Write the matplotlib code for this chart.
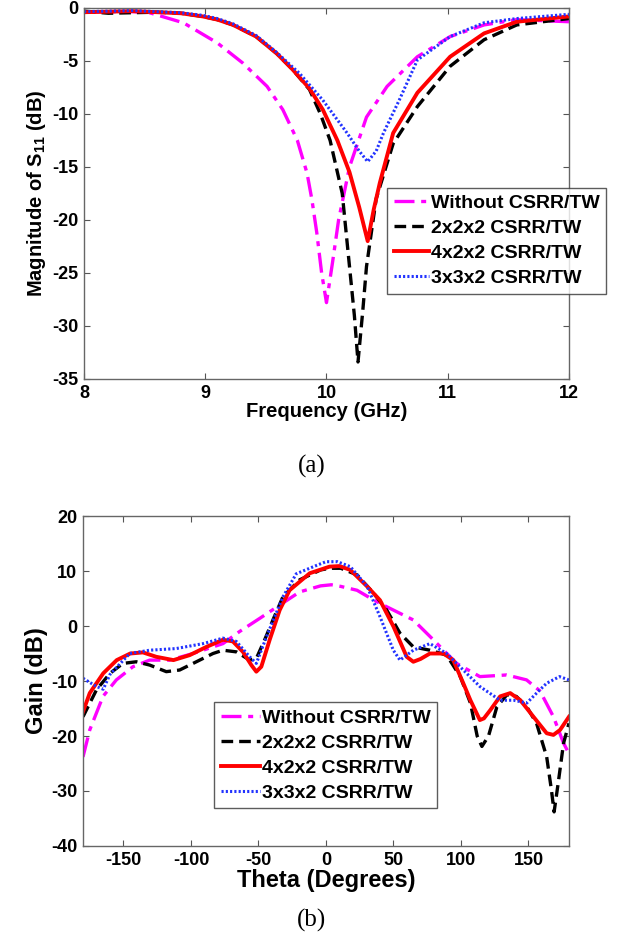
import matplotlib
matplotlib.use('Agg')
from matplotlib import pyplot as plt

plt.rcParams['font.family'] = ['Liberation Sans', 'DejaVu Sans']
plt.rcParams['font.weight'] = 'bold'
plt.rcParams['axes.unicode_minus'] = False
plt.rcParams['mathtext.fontset'] = 'custom'
plt.rcParams['mathtext.rm'] = 'Liberation Sans:bold'
plt.rcParams['mathtext.it'] = 'Liberation Sans:bold'

labels = ['Without CSRR/TW', '2x2x2 CSRR/TW', '4x2x2 CSRR/TW', '3x3x2 CSRR/TW']

# (a) S11 vs frequency
f_without = [8.0, 8.2, 8.4, 8.54, 8.82, 9.1, 9.31, 9.51, 9.64, 9.76, 9.84, 9.88, 9.92, 9.96, 10.0,
             10.05, 10.1, 10.19, 10.33, 10.5, 10.75, 11.02, 11.3, 11.57, 12.0]
s_without = [-0.4, -0.35, -0.35, -0.45, -1.4, -3.3, -5.2, -7.4, -9.6, -12.5, -15.6, -18.1, -21.2, -25.0, -27.8,
             -24.0, -20.0, -15.0, -10.3, -7.4, -4.6, -2.7, -1.6, -1.1, -1.3]

f_222 = [8.0, 8.2, 8.4, 8.6, 8.8, 8.98, 9.1, 9.23, 9.42, 9.59, 9.72, 9.86, 9.95, 10.03, 10.13,
         10.19, 10.23, 10.26, 10.3, 10.33, 10.41, 10.55, 10.75, 11.02, 11.3, 11.57, 12.0]
s_222 = [-0.3, -0.5, -0.45, -0.4, -0.5, -0.8, -1.1, -1.6, -2.7, -4.3, -5.8, -7.7, -10.0, -12.5, -17.5,
         -24.4, -29.0, -33.4, -28.5, -24.4, -18.0, -12.8, -9.3, -5.5, -3.0, -1.6, -1.0]

f_422 = [8.0, 8.2, 8.4, 8.6, 8.8, 8.98, 9.1, 9.23, 9.42, 9.59, 9.72, 9.86, 9.97, 10.09, 10.19,
         10.27, 10.34, 10.39, 10.44, 10.55, 10.75, 11.02, 11.3, 11.57, 12.0]
s_422 = [-0.4, -0.35, -0.3, -0.4, -0.5, -0.8, -1.1, -1.6, -2.7, -4.3, -5.8, -7.6, -9.6, -12.5, -15.5,
         -18.8, -22.0, -19.0, -16.5, -11.8, -8.0, -4.6, -2.4, -1.3, -0.8]

f_332 = [8.0, 8.2, 8.4, 8.6, 8.8, 8.98, 9.1, 9.23, 9.42, 9.59, 9.78, 9.97, 10.17, 10.27, 10.34,
         10.41, 10.47, 10.6, 10.75, 11.02, 11.3, 11.57, 12.0]
s_332 = [-0.35, -0.3, -0.25, -0.35, -0.45, -0.7, -1.0, -1.5, -2.6, -4.2, -6.2, -8.7, -11.8, -13.5, -14.5,
         -13.5, -11.8, -8.7, -4.9, -2.7, -1.4, -1.0, -0.6]

# (b) gain vs theta
t_without = [-180, -175, -165.2, -155.3, -143, -130.6, -115.8, -98.5, -76.3, -64, -49, -34.3, -19.5,
             -4, 4, 11, 23, 35.5, 45, 64.7, 79.5, 96.8, 114, 133.8, 148.6, 158.5, 168.5, 176, 180]
g_without = [-23.8, -18.9, -12.8, -9.8, -7.4, -6.2, -6.2, -5.0, -3.2, -1.0, 1.4, 3.8, 6.2,
             7.3, 7.5, 7.2, 6.5, 4.7, 3.5, 1.1, -2.5, -6.8, -9.2, -8.9, -9.8, -11.8, -16.5, -21.3, -23.2]

t_222 = [-180, -170, -160, -150.4, -140.5, -130.6, -118.3, -108.4, -96, -83.7, -76.3, -66.4, -56.5,
         -51.6, -45.4, -39.3, -31.9, -19.5, -4, 2.7, 11, 23, 35.5, 45, 54.8, 64.7, 77, 89.4, 99.5,
         107, 112, 115.5, 120.4, 126.6, 134, 141, 148.8, 156, 163.5, 167, 169, 172, 176, 180]
g_222 = [-16.5, -11.6, -8.6, -6.8, -6.5, -7.1, -8.3, -8.0, -6.5, -5.0, -4.4, -4.7, -6.2,
         -5.9, -2.5, 1.1, 5.3, 8.4, 10.2, 10.5, 10.5, 9.3, 5.9, 2.9, -1.3, -3.8, -4.4, -5.3, -9.2,
         -14.0, -20.0, -21.9, -20.0, -14.7, -12.5, -12.8, -14.7, -17.7, -23.8, -29.8, -33.8, -28.6, -21.3, -17.7]

t_422 = [-180, -175, -165, -155, -145, -135.6, -125.7, -113, -101, -88.6, -76.3, -69, -61.5, -55.3,
         -51.6, -47.9, -41.7, -34.3, -27, -12, 2.7, 10, 18, 30.5, 40, 50, 59.8, 64.7, 70, 77, 87,
         94.3, 101.7, 107, 114, 117, 121.7, 129, 136.5, 144, 153.7, 163.5, 168.5, 173.4, 180]
g_422 = [-15.6, -12.2, -8.6, -6.2, -5.0, -4.8, -5.6, -6.2, -5.3, -3.8, -2.5, -2.8, -4.7, -7.1,
         -8.3, -7.4, -2.5, 2.9, 6.5, 9.6, 10.8, 10.9, 10.2, 7.2, 4.7, -0.1, -5.6, -6.5, -6.0, -5.0, -5.0,
         -6.2, -10.4, -13.5, -17.1, -16.8, -15.3, -12.8, -12.2, -13.5, -16.5, -19.5, -19.8, -18.9, -16.5]

t_332 = [-180, -170, -165, -160, -145.4, -130.6, -111, -91, -76.3, -66.4, -56.5, -51.6, -44, -31.9,
         -22, -7.2, 0, 8.4, 18, 30.5, 40, 49.9, 54.8, 64.7, 77, 89.4, 101.7, 114, 129, 139, 148.8,
         156, 163.5, 173, 180]
g_332 = [-9.5, -11.0, -11.5, -8.8, -5.0, -4.4, -4.1, -3.2, -2.2, -2.8, -5.6, -6.8, -1.9, 5.3,
         9.5, 11.0, 11.7, 11.7, 10.8, 7.2, 1.7, -4.4, -6.2, -4.4, -3.2, -5.0, -8.0, -11.0, -13.5, -13.5, -14.0,
         -12.2, -10.4, -9.2, -9.8]

styles = [dict(color='#ff00ff', ls=(0, (6, 2, 1.5, 2)), lw=2.4),
          dict(color='black', ls=(0, (3.5, 1.8)), lw=2.4),
          dict(color='#ff0000', ls='-', lw=2.8),
          dict(color='#2233ff', ls=(0, (0.7, 0.7)), lw=2.2)]


def style_axes(ax):
    ax.tick_params(direction='in', top=True, right=True, length=4, width=0.8,
                   labelsize=13, color='#555555', pad=4)
    for sp in ax.spines.values():
        sp.set_color('#666666')
        sp.set_linewidth(1.0)


def add_legend(ax, anchor, hlen):
    leg = ax.legend(loc='upper left', bbox_to_anchor=anchor, fontsize=14, frameon=True,
                    fancybox=False, handlelength=hlen, handletextpad=0.1, borderpad=0.35,
                    labelspacing=0.38, borderaxespad=0)
    leg.get_frame().set_edgecolor('#333333')
    leg.get_frame().set_linewidth(1.0)
    return leg


fig = plt.figure(figsize=(6.24, 9.35), dpi=100)

# ---- (a)
ax1 = fig.add_axes([0.1346, 0.5947, 0.7772, 0.3968])
for (x, y), lab, st in zip([(f_without, s_without), (f_222, s_222), (f_422, s_422), (f_332, s_332)],
                           labels, styles):
    ax1.plot(x, y, label=lab, **st)
ax1.set_xlim(8, 12)
ax1.set_ylim(-35, 0)
ax1.set_xticks([8, 9, 10, 11, 12])
ax1.set_yticks(range(-35, 1, 5))
style_axes(ax1)
ax1.set_xlabel('Frequency (GHz)', fontsize=14.5, fontweight='bold', labelpad=0)
ax1.set_ylabel(r'Magnitude of S$_{11}$ (dB)', fontsize=14.5, fontweight='bold', labelpad=3)
add_legend(ax1, (0.625, 0.515), 1.8)
fig.text(0.5, 1 - 466 / 935, '(a)', family='Liberation Serif', fontweight='normal',
         fontsize=18, ha='center', va='center')

# ---- (b)
ax2 = fig.add_axes([0.133, 0.0952, 0.7788, 0.3529])
for (x, y), lab, st in zip([(t_without, g_without), (t_222, g_222), (t_422, g_422), (t_332, g_332)],
                           labels, styles):
    ax2.plot(x, y, label=lab, **st)
ax2.set_xlim(-180, 180)
ax2.set_ylim(-40, 20)
ax2.set_xticks([-150, -100, -50, 0, 50, 100, 150])
ax2.set_yticks(range(-40, 21, 10))
style_axes(ax2)
ax2.set_xlabel('Theta (Degrees)', fontsize=17, fontweight='bold', labelpad=0)
ax2.set_ylabel('Gain (dB)', fontsize=17, fontweight='bold', labelpad=2)
add_legend(ax2, (0.27, 0.436), 2.0)
fig.text(0.5, 1 - 920 / 935, '(b)', family='Liberation Serif', fontweight='normal',
         fontsize=18, ha='center', va='center')

plt.savefig('out.png', dpi=100)
